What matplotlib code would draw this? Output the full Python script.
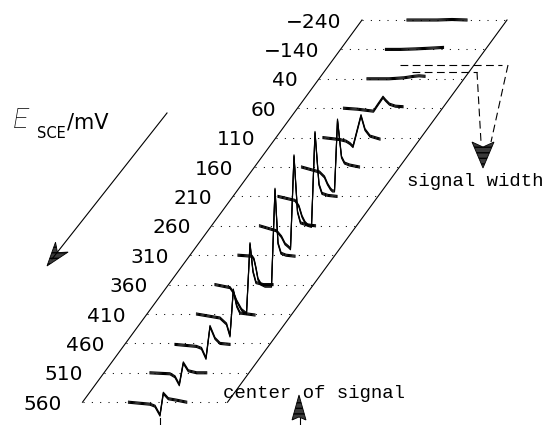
import numpy as np
import matplotlib.pyplot as plt
from matplotlib.transforms import offset_copy
from matplotlib.patches import Polygon

# electrode potentials (one spectrum per row, top to bottom)
potentials = ['−240', '−140', '40', '60', '110', '160', '210',
              '260', '310', '360', '410', '460', '510', '560']

# spectra: field offset / signal (arbitrary units)
f_m240 = [45, 60, 75, 90, 105]
s_m240 = [0, 0, 0, 0.5, 0]
f_m140 = [45, 60, 75, 95, 103]
s_m140 = [0, 0, 0.5, 1.5, 2]
f_40 = [48, 70, 85, 95, 100, 106]
s_40 = [0, 0, 1, 2.5, 3, 2.5]
f_60 = [46, 60, 72, 76, 80, 85.5, 88, 92, 98, 105.5]
s_60 = [0, -1, -2.5, -3, 3, 11, 8, 4, 2, 1.5]
f_110 = [47, 64, 70, 74, 77, 85, 89, 94, 104]
s_110 = [0, -2, -3.5, -6, -9, 22, 8, 1.5, -1.5]
f_160 = [47, 65, 70, 73, 76, 78, 80, 83, 87, 90, 95, 105]
s_160 = [0, -5, -10, -17, -22, -24, -24, 47, 10, 4, 2, 0]
f_210 = [45, 62, 66, 69, 72, 75, 78.5, 82, 86, 89, 95, 104]
s_210 = [0, -4, -10, -20, -26, -29, -30, 64, 12, 3, 1, 0]
f_260 = [48, 65, 70, 73.5, 77, 79, 82.5, 86, 89, 95, 104]
s_260 = [0, -5, -11, -18, -21, -23, 70, 14, 3, 1, 0]
f_310 = [48, 62, 64, 66, 68, 71, 75, 81.5, 85, 88, 91, 96, 105]
s_310 = [0, -1, -4, -13, -24, -29, -31, -31, 66, 12, 2, 0, -1]
f_360 = [46.5, 61.5, 65, 68, 73, 78, 81.5, 84.5, 87.5, 95, 104.5]
s_360 = [0, -3, -8, -16, -25, -29, 41, 13, 2, 0, 0]
f_410 = [49.5, 73, 79.5, 83, 86.3, 89.7, 93, 108]
s_410 = [0, -4, -10, -22, 24, 8, 1, -1]
f_460 = [49.5, 71, 76, 80.5, 84.5, 89.5, 94.5, 104.5]
s_460 = [-1, -3, -5, -15, 17, 5, 0, -1]
f_510 = [46, 66, 71, 75.3, 79.3, 84.3, 92.7, 102.7]
s_510 = [0, -1, -4, -12, 10, 2, 0, 0]
f_560 = [46, 67.5, 72.5, 77.5, 80.8, 85.8, 94.2, 104.2]
s_560 = [0, -2, -4, -13, 9, 3.5, 2, 0]

fields = [f_m240, f_m140, f_40, f_60, f_110, f_160, f_210,
          f_260, f_310, f_360, f_410, f_460, f_510, f_560]
signals = [s_m240, s_m140, s_40, s_60, s_110, s_160, s_210,
           s_260, s_310, s_360, s_410, s_460, s_510, s_560]

# oblique layout of the stack
x0, y0 = 362.0, 20.0        # left corner of the back row
row_dx, row_dy = -21.5, 29.4
width = 145.0

fig = plt.figure(figsize=(5.46, 4.25), dpi=100)
ax = fig.add_axes([0, 0, 1, 1])
ax.set_xlim(0, 546)
ax.set_ylim(425, 0)
ax.axis('off')

n = len(potentials)
# plane edges
ax.plot([x0, x0 + row_dx * (n - 1)], [y0, y0 + row_dy * (n - 1)], color='k', lw=0.8)
ax.plot([x0 + width, x0 + width + row_dx * (n - 1)], [y0, y0 + row_dy * (n - 1)],
        color='k', lw=0.8)

# fuzzy trace look: same line drawn a few times, shifted up/down by a pixel
shifts = [offset_copy(ax.transData, fig=fig, x=0, y=d, units='dots') for d in (-1, 0, 1)]

for i, (lab, f, s) in enumerate(zip(potentials, fields, signals)):
    xl = x0 + row_dx * i
    yb = y0 + row_dy * i
    ax.plot([xl, xl + width], [yb, yb], color='k', lw=0.75,
            linestyle=(0, (1, 7)))
    ax.text(xl - 21, yb + 7.5, lab, ha='right', va='baseline',
            fontsize=14.5, family='DejaVu Sans', color='k')
    xs = xl + np.array(f)
    ys = yb - np.array(s)
    for tr in shifts:
        ax.plot(xs, ys, color='k', lw=0.8, transform=tr)


def arrow_head(tip, start, length, half_w, notch):
    tip = np.array(tip, float)
    u = tip - np.array(start, float)
    u /= np.hypot(*u)
    p = np.array([-u[1], u[0]])
    back = tip - length * u
    pts = [tip, back + half_w * p, tip - (length - notch) * u, back - half_w * p]
    ax.add_patch(Polygon(pts, closed=True, facecolor='#3a3a3a', edgecolor='k',
                         lw=0.6, hatch='---'))


# E_SCE axis arrow
ax.plot([167, 52], [113, 259], color='k', lw=0.8)
arrow_head((47, 266), (167, 113), 24, 8, 7)
ax.text(13, 128, 'E', fontsize=20, style='italic', family='Roboto',
        fontweight='light', color='k')
ax.text(37, 138, 'SCE', fontsize=10.5, family='DejaVu Sans')
ax.text(67, 128, '/mV', fontsize=15, family='DejaVu Sans')

# signal width funnel
dash = dict(color='k', lw=0.8, linestyle=(0, (7, 4)))
ax.plot([400, 502], [65, 65], **dash)
ax.plot([412, 477], [72, 72], **dash)
ax.plot([477, 481], [72, 142], **dash)
ax.plot([508, 491], [65, 142], **dash)
arrow_head((483, 168), (483, 130), 26, 11, 5)
ax.text(407, 186, 'signal width', fontsize=13.7, family='Liberation Mono')

# center of signal marker
ax.text(223, 398, 'center of signal', fontsize=13.7, family='Liberation Mono')
arrow_head((299, 395), (299, 425), 25, 7, 3)
ax.plot([300, 300], [418, 425], color='k', lw=0.8)
ax.plot([160, 160], [418, 425], color='k', lw=0.8)

fig.savefig('out.png', dpi=100)
